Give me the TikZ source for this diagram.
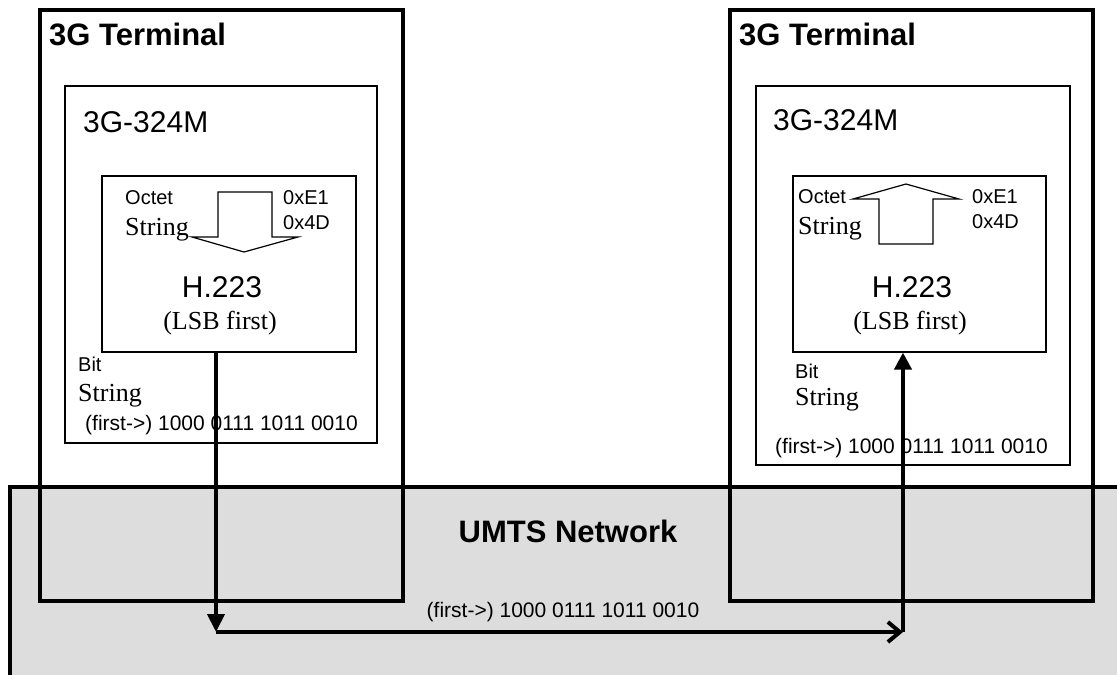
\documentclass[tikz,border=0pt]{standalone}
\usepackage{fontspec}
\setmainfont{Liberation Sans}
\newfontfamily\timesfont{Liberation Serif}
\usetikzlibrary{arrows.meta}
\definecolor{umtsgray}{RGB}{221,221,221}

\begin{document}
\begin{tikzpicture}[x=1pt,y=-1pt]
\tikzset{term/.style = {line width=3.5pt}}
\tikzset{stackbox/.style = {draw, line width=1.2pt, fill=white}}
\tikzset{blockarrow/.style = {draw, line width=1.2pt, fill=white, line join=miter}}
\tikzset{lbl/.style = {inner sep=0pt, anchor=base west, font=\fontsize{20}{24}\selectfont}}
\tikzset{serif/.style = {inner sep=0pt, anchor=base west, font=\timesfont\fontsize{26}{30}\selectfont}}
\tikzset{big/.style = {inner sep=0pt, anchor=base west, font=\fontsize{30}{34}\selectfont}}
\tikzset{titletxt/.style = {inner sep=0pt, anchor=base west, font=\bfseries\fontsize{31}{34}\selectfont}}
\tikzset{bits/.style = {inner sep=0pt, anchor=base west, font=\fontsize{21}{24}\selectfont}}
\tikzset{flow/.style = {line width=4pt}}

\useasboundingbox (0,0) rectangle (1117,675);

% network
\fill[umtsgray] (10,487) rectangle (1140,700);
\draw[line width=4pt] (10,700) -- (10,487) -- (1140,487);
\node[titletxt, anchor=base] (umts) at (568,542) {UMTS Network};

% terminals
\foreach \n/\x in {L/40, R/730}
  {\draw[term] (\x,10) rectangle ++(363,591);
   \node[titletxt] (title\n) at (\x+9,45) {3G Terminal};}

\draw[stackbox] (65,86) rectangle (377,443);
\draw[stackbox] (756,86) rectangle (1070,465);
\node[big] (h324L) at (83,132) {3G-324M};
\node[big] (h324R) at (773,130) {3G-324M};

\node[stackbox, inner sep=0pt, minimum width=254pt, minimum height=176pt] (h223L) at (229,264) {};
\node[stackbox, inner sep=0pt, minimum width=253pt, minimum height=176pt] (h223R) at (919.5,264) {};

\draw[blockarrow] (218,192) -- (272,192) -- (272,237) -- (298,237) -- (244,252)
   -- (192,237) -- (218,237) -- cycle;
\draw[blockarrow] (879,244) -- (933,244) -- (933,199) -- (959,199) -- (906,184)
   -- (853,199) -- (879,199) -- cycle;

% left terminal texts
\node[lbl] (octetL) at (125,204) {Octet};
\node[serif] (strL) at (125,235) {String};
\node[lbl] (hexaL) at (283,204) {0xE1};
\node[lbl] (hexbL) at (283,229) {0x4D};
\node[big, anchor=base] (protoL) at (222,297) {H.223};
\node[serif, anchor=base] (lsbL) at (220,329) {(LSB first)};
\node[lbl] (bitL) at (78,371) {Bit};
\node[serif] (strbL) at (78,401) {String};
\node[bits] (bitsL) at (85,430) {(first->) 1000 0111 1011 0010};

% right terminal texts
\node[lbl] (octetR) at (798,203) {Octet};
\node[serif] (strR) at (798,234) {String};
\node[lbl] (hexaR) at (972,203) {0xE1};
\node[lbl] (hexbR) at (972,228) {0x4D};
\node[big, anchor=base] (protoR) at (912,297) {H.223};
\node[serif, anchor=base] (lsbR) at (910,329) {(LSB first)};
\node[lbl] (bitR) at (795,378) {Bit};
\node[serif] (strbR) at (795,405) {String};
\node[bits] (bitsR) at (775,453) {(first->) 1000 0111 1011 0010};

\node[bits, anchor=base] (wire) at (563,617) {(first->) 1000 0111 1011 0010};

% bit stream
\coordinate (turnL) at (216,632);
\coordinate (turnR) at (903,632);
\draw[flow, -{Triangle[length=18pt,width=17pt]}] (h223L.south -| turnL) -- (turnL);
\draw[flow, -{Straight Barb[length=12pt,width=20pt]}] (turnL) -- (turnR);
\draw[flow, -{Triangle[length=17pt,width=17pt]}] (turnR) -- (turnR |- h223R.south);

\end{tikzpicture}
\end{document}
